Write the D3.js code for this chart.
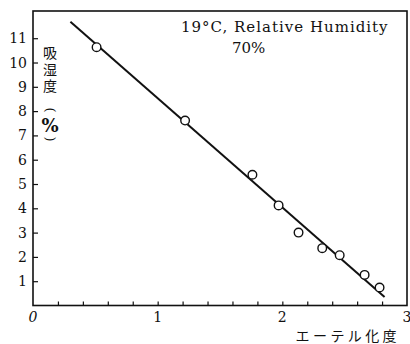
<!DOCTYPE html>
<html>
<head>
<meta charset="utf-8">
<script src="https://cdn.jsdelivr.net/npm/d3@7"></script>
<style>
  html, body { margin: 0; padding: 0; background: #fff; }
  svg text { fill: #111; }
</style>
</head>
<body>
<div id="chart"></div>
<script>
  // measured points: degree of etherification vs moisture absorption
  const etherDeg = [0.51, 1.22, 1.76, 1.97, 2.13, 2.32, 2.46, 2.66, 2.78];
  const absorb = [10.63, 7.61, 5.38, 4.12, 3.00, 2.36, 2.07, 1.26, 0.74];

  // fitted straight line, end points
  const fitX = [0.30, 2.82];
  const fitY = [11.68, 0.35];

  const xTicks = [0, 1, 2, 3];
  const yTicks = [1, 2, 3, 4, 5, 6, 7, 8, 9, 10, 11];

  const width = 410;
  const height = 344;
  const plotL = 33, plotR = 407, plotT = 11, plotB = 305.5;

  const serif = '"DejaVu Serif", "Liberation Serif", serif';
  const cjk = '"Noto Sans CJK JP", sans-serif';

  const svg = d3.select('#chart').append('svg')
    .attr('width', width)
    .attr('height', height);

  const x = d3.scaleLinear().domain([0, 3]).range([plotL, plotR]);
  const y = d3.scaleLinear().domain([0, 12.12]).range([plotB, plotT]);

  // frame
  svg.append('rect')
    .attr('x', plotL).attr('y', plotT)
    .attr('width', plotR - plotL).attr('height', plotB - plotT)
    .attr('fill', 'none').attr('stroke', '#111').attr('stroke-width', 1.6);

  // x axis: minor ticks inside, every 0.2
  const xAxis = d3.axisTop(x)
    .tickValues(d3.range(1, 15).map((i) => i * 0.2))
    .tickSize(4).tickFormat('');
  const gx = svg.append('g').attr('transform', `translate(0,${plotB})`).call(xAxis);
  gx.select('.domain').remove();
  gx.selectAll('line').attr('stroke', '#111').attr('stroke-width', 1.2);

  svg.selectAll('.xlab')
    .data(xTicks)
    .enter().append('text')
    .attr('class', 'xlab')
    .attr('x', (d) => x(d))
    .attr('y', 322)
    .attr('text-anchor', 'middle')
    .attr('font-family', serif)
    .attr('font-size', 14)
    .attr('font-style', (d) => d === 0 ? 'italic' : 'normal')
    .text((d) => d);

  // y axis ticks inside
  const yAxis = d3.axisRight(y).tickValues(yTicks).tickSize(5).tickFormat('');
  const gy = svg.append('g').attr('transform', `translate(${plotL},0)`).call(yAxis);
  gy.select('.domain').remove();
  gy.selectAll('line').attr('stroke', '#111').attr('stroke-width', 1.2);

  svg.selectAll('.ylab')
    .data(yTicks)
    .enter().append('text')
    .attr('class', 'ylab')
    .attr('x', 27)
    .attr('y', (d) => y(d) + 5)
    .attr('text-anchor', 'end')
    .attr('font-family', serif)
    .attr('font-size', 14)
    .text((d) => d);

  // y axis title, written vertically: 吸湿度 (%)
  svg.append('text')
    .attr('x', 50).attr('y', 46)
    .attr('writing-mode', 'vertical-rl')
    .attr('font-family', cjk)
    .attr('font-size', 14)
    .attr('letter-spacing', 2.5)
    .text('吸湿度');

  // turned brackets round the unit
  [['(', 110], [')', 139]].forEach(([ch, cy]) => {
    svg.append('text')
      .attr('x', 50).attr('y', cy)
      .attr('text-anchor', 'middle')
      .attr('dominant-baseline', 'central')
      .attr('transform', `rotate(90,50,${cy})`)
      .attr('font-family', serif)
      .attr('font-size', 13)
      .text(ch);
  });
  svg.append('text')
    .attr('x', 50).attr('y', 132)
    .attr('text-anchor', 'middle')
    .attr('font-family', serif)
    .attr('font-weight', 'bold')
    .attr('font-size', 18)
    .text('%');

  // x axis title
  svg.append('text')
    .attr('x', 400).attr('y', 341)
    .attr('text-anchor', 'end')
    .attr('font-family', cjk)
    .attr('font-size', 14)
    .attr('letter-spacing', 3.4)
    .text('エーテル化度');

  // condition note
  svg.append('text')
    .attr('x', 181).attr('y', 32)
    .attr('font-family', serif)
    .attr('font-size', 15)
    .attr('letter-spacing', 1)
    .text('19°C,  Relative Humidity');
  svg.append('text')
    .attr('x', 232).attr('y', 53)
    .attr('font-family', serif)
    .attr('font-size', 15)
    .text('70%');

  // fitted line
  const fit = fitX.map((d, i) => ({ x: d, y: fitY[i] }));
  svg.append('path')
    .datum(fit)
    .attr('d', d3.line().x((d) => x(d.x)).y((d) => y(d.y)))
    .attr('fill', 'none')
    .attr('stroke', '#111')
    .attr('stroke-width', 2);

  // data circles
  const pts = etherDeg.map((d, i) => ({ x: d, y: absorb[i] }));
  svg.selectAll('.pt')
    .data(pts)
    .enter().append('circle')
    .attr('class', 'pt')
    .attr('cx', (d) => x(d.x))
    .attr('cy', (d) => y(d.y))
    .attr('r', 4.3)
    .attr('fill', '#fff')
    .attr('stroke', '#111')
    .attr('stroke-width', 1.4);
</script>
</body>
</html>
